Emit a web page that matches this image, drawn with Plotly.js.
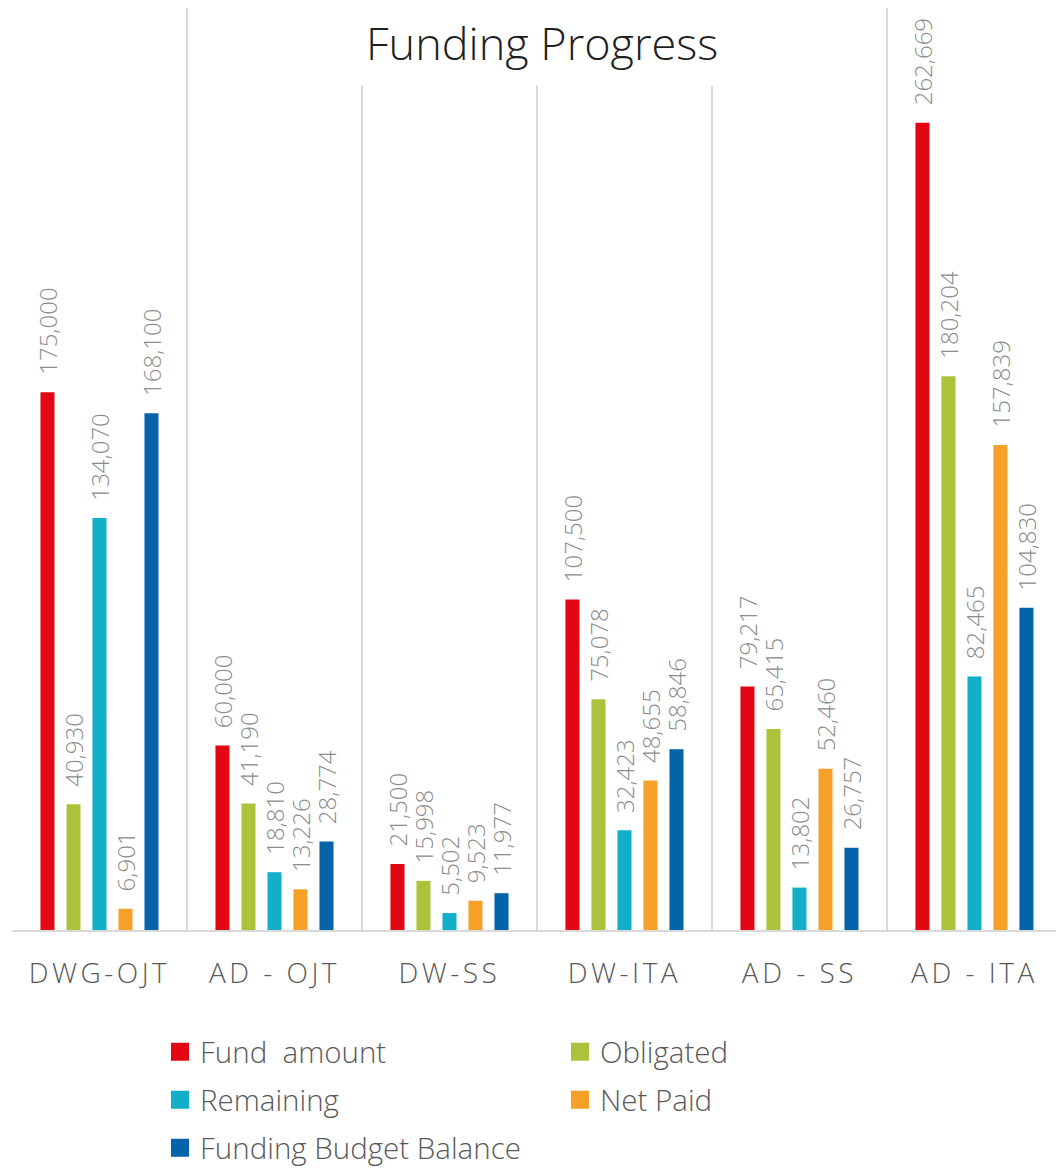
<!DOCTYPE html>
<html>
<head>
<meta charset="utf-8">
<script src="https://cdn.plot.ly/plotly-3.0.1.min.js"></script>
<style>
  html, body { margin: 0; padding: 0; background: #fff; overflow: hidden; }
  .xtick text { letter-spacing: 3.5px; }
</style>
</head>
<body>
<div id="chart" style="width:1056px;height:1168px;"></div>
<script>
const categories = ["DWG-OJT", "AD - OJT", "DW-SS", "DW-ITA", "AD - SS", "AD - ITA"];
const seriesNames = ["Fund  amount", "Obligated", "Remaining", "Net Paid", "Funding Budget Balance"];
const fundAmount = [175000, 60000, 21500, 107500, 79217, 262669];
const obligated = [40930, 41190, 15998, 75078, 65415, 180204];
const remaining = [134070, 18810, 5502, 32423, 13802, 82465];
const netPaid = [6901, 13226, 9523, 48655, 52460, 157839];
const budgetBalance = [168100, 28774, 11977, 58846, 26757, 104830];
const seriesColors = ["#E30613", "#ABC23B", "#12B0C8", "#F5A028", "#0563AA"];

const seriesValues = [fundAmount, obligated, remaining, netPaid, budgetBalance];
const legendIds = ["legend", "legend2", "legend3", "legend4", "legend5"];

const traces = [];
seriesValues.forEach((vals, i) => {
  traces.push({
    type: "bar",
    name: seriesNames[i],
    x: categories,
    y: vals,
    marker: { color: seriesColors[i] },
    texttemplate: "\u2002\u200A%{y:,.0f}",
    textposition: "outside",
    textangle: -90,
    constraintext: "none",
    cliponaxis: false,
    textfont: { family: "'Open Sans', 'Noto Sans', sans-serif", size: 24, color: "#8C8C8C", weight: 300 },
    showlegend: false,
    hoverinfo: "skip"
  });
});
seriesValues.forEach((vals, i) => {
  traces.push({
    type: "scatter",
    mode: "markers",
    name: seriesNames[i],
    x: [categories[0]],
    y: [null],
    marker: { symbol: "square", size: 16, color: seriesColors[i], line: { color: seriesColors[i], width: 2 } },
    legend: legendIds[i],
    showlegend: true,
    hoverinfo: "skip"
  });
});

const legendFont = { family: "'Open Sans', 'Noto Sans', sans-serif", size: 29.5, color: "#595959", weight: 300 };
const legendPos = [
  [160, 1052], [560, 1052],
  [160, 1100], [560, 1100],
  [160, 1148]
];
const H = 1168, W = 1056;

const layout = {
  width: W, height: H,
  margin: { l: 12, r: 0, t: 8, b: 238, pad: 0 },
  paper_bgcolor: "#ffffff",
  plot_bgcolor: "#ffffff",
  barmode: "group",
  bargap: 0.257,
  bargroupgap: 0.46,
  xaxis: {
    type: "category",
    range: [-0.5, 5.466],
    tickson: "boundaries",
    showgrid: true,
    gridcolor: "#D9D9D9",
    gridwidth: 2,
    showline: true,
    linecolor: "#D9D9D9",
    linewidth: 2,
    ticks: "",
    ticklabelstandoff: 17,
    tickfont: { family: "'Open Sans', 'Noto Sans', sans-serif", size: 28, color: "#595959", weight: 300 },
    fixedrange: true
  },
  yaxis: {
    range: [0, 300000],
    showgrid: false,
    zeroline: false,
    showticklabels: false,
    ticks: "",
    fixedrange: true
  },
  annotations: [{
    text: "Funding Progress",
    xref: "paper", yref: "paper",
    x: (542 - 12) / 1044, y: (930 - 42) / 922,
    xanchor: "center", yanchor: "middle",
    showarrow: false,
    bgcolor: "#ffffff",
    borderpad: 12,
    font: { family: "'Open Sans', 'Noto Sans', sans-serif", size: 45, color: "#1F1F1F", weight: 300 }
  }],
  showlegend: true
};
legendIds.forEach((id, i) => {
  layout[id] = {
    xref: "container", yref: "container",
    x: legendPos[i][0] / W,
    y: 1 - legendPos[i][1] / H,
    xanchor: "left", yanchor: "middle",
    orientation: "h",
    bgcolor: "rgba(0,0,0,0)",
    borderwidth: 0,
    font: legendFont
  };
});

Plotly.newPlot("chart", traces, layout, { displayModeBar: false, staticPlot: true });
</script>
</body>
</html>
